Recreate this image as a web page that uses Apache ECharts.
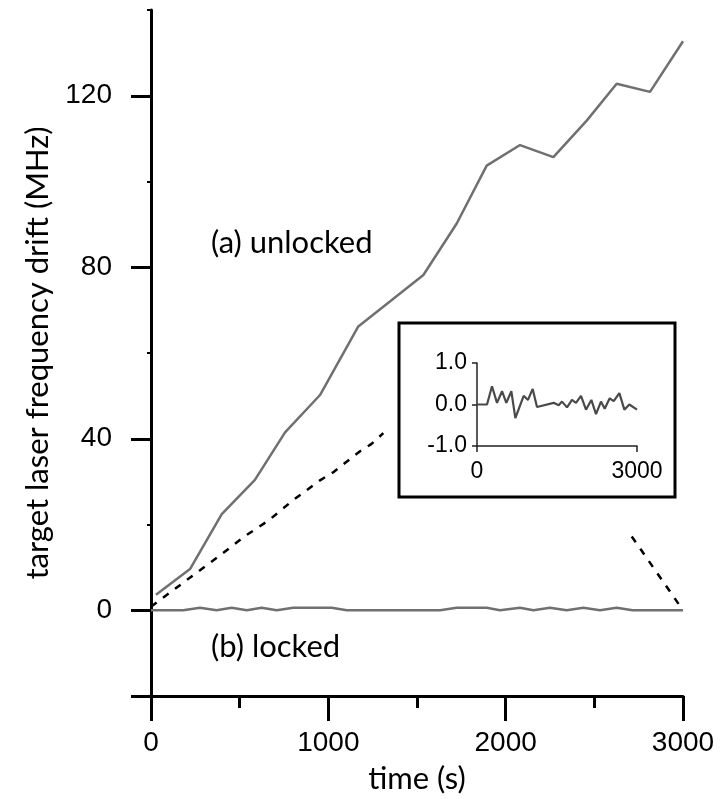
<!DOCTYPE html>
<html>
<head>
<meta charset="utf-8">
<script src="https://cdn.jsdelivr.net/npm/echarts@6/dist/echarts.min.js"></script>
<style>
  html, body { margin: 0; padding: 0; background: #fff; }
  #chart { width: 722px; height: 799px; }
</style>
</head>
<body>
<div id="chart"></div>
<script>
// (a) free-running laser: drift vs time
const unlockedTime  = [28, 220, 399, 586, 756, 953, 1169, 1536, 1724, 1893, 2081, 2269, 2457, 2626, 2814, 3000];
const unlockedDrift = [3.6, 9.6, 22.4, 30.4, 41.5, 50.2, 66.2, 78.2, 90.2, 103.7, 108.5, 105.7, 114.2, 122.8, 120.9, 132.7];

// (b) locked laser: drift vs time (main panel)
const lockedTime  = [0, 182, 276, 370, 455, 540, 624, 709, 802, 1019, 1104, 1630, 1724, 1893, 1968, 2081, 2156, 2250, 2344, 2438, 2532, 2626, 2716, 3000];
const lockedDrift = [0, 0, 0.6, 0, 0.6, 0, 0.6, 0, 0.6, 0.6, 0, 0, 0.6, 0.6, 0, 0.6, 0, 0.6, 0, 0.6, 0, 0.6, 0, 0];

// locked laser, magnified (inset)
const insetTime  = [0, 188, 281, 375, 469, 550, 644, 719, 875, 956, 1044, 1125, 1438, 1531, 1594, 1688, 1781, 1856, 1950, 2044, 2144, 2231, 2325, 2394, 2488, 2563, 2669, 2763, 2856, 3000];
const insetDrift = [0, 0, 0.44, 0.04, 0.32, 0.04, 0.32, -0.33, 0.21, 0.11, 0.375, -0.06, 0.04, -0.02, 0.07, -0.07, 0.11, 0.04, 0.21, -0.125, 0.11, -0.23, 0.07, -0.1, 0.15, 0.08, 0.275, -0.125, 0, -0.125];

// dashed guide lines pointing from the locked trace to the inset
const guideLeftTime   = [0, 229, 380, 530, 662, 802, 878, 953, 1028, 1179, 1244, 1310];
const guideLeftDrift  = [0.8, 7.9, 12.5, 17.3, 20.9, 25.7, 28.0, 30.3, 32.2, 37.1, 38.8, 41.3];
const guideRightTime  = [2711, 3000];
const guideRightDrift = [17.2, 0];

// curve annotations
const noteTime  = [338, 338];
const noteDrift = [85.6, -8.6];
const noteText  = ['(a) unlocked', '(b) locked'];

// ticks and labels
const yMajorTicks  = [-20, 0, 40, 80, 120];
const yLabelValues = [0, 40, 80, 120];
const yMinorTicks  = [20, 60, 100, 140];
const xMajorTicks  = [0, 1000, 2000, 3000];
const xMinorTicks  = [500, 1500, 2500];
const insetXTicks  = [0, 3000];

const zip = (xs, ys) => xs.map((x, i) => [x, ys[i]]);
const plain = v => String(v);

const tickFont = '"Liberation Sans", Arial, sans-serif';
const textFont = 'Lato, "Open Sans", sans-serif';
const black = '#000';
const traceColor = '#707070';

const chart = echarts.init(document.getElementById('chart'), null, { renderer: 'canvas' });

chart.setOption({
  animation: false,
  backgroundColor: '#fff',
  grid: [
    { left: 151, right: 39, top: 10, bottom: 99 },
    { left: 477, top: 363, width: 160, height: 83 }
  ],
  graphic: [{
    type: 'rect',
    z: 0,
    shape: { x: 399, y: 323, width: 276, height: 174 },
    style: { fill: '#fff', stroke: black, lineWidth: 3 }
  }],
  xAxis: [
    {
      gridIndex: 0, type: 'value', min: 0, max: 3000, position: 'bottom',
      axisLine: { onZero: false, lineStyle: { color: black, width: 3 } },
      axisTick: { customValues: xMajorTicks, length: 25, lineStyle: { color: black, width: 3 } },
      axisLabel: { customValues: xMajorTicks, formatter: plain, margin: 33, fontSize: 28, fontFamily: tickFont, color: black },
      splitLine: { show: false },
      name: 'time (s)', nameLocation: 'middle', nameGap: 67,
      nameTextStyle: { fontSize: 31, fontFamily: textFont, color: black }
    },
    {
      gridIndex: 0, type: 'value', min: 0, max: 3000, position: 'bottom',
      axisLine: { show: false, onZero: false },
      axisTick: { customValues: xMinorTicks, length: 12, lineStyle: { color: black, width: 3 } },
      axisLabel: { show: false },
      splitLine: { show: false }
    },
    {
      gridIndex: 1, type: 'value', min: 0, max: 3000, interval: 3000, position: 'bottom',
      axisLine: { onZero: false, lineStyle: { color: '#222', width: 1.5 } },
      axisTick: { customValues: insetXTicks, length: 6, lineStyle: { color: '#222', width: 1.5 } },
      axisLabel: { customValues: insetXTicks, formatter: plain, margin: 14, fontSize: 23, fontFamily: tickFont, color: black },
      splitLine: { show: false }
    }
  ],
  yAxis: [
    {
      gridIndex: 0, type: 'value', min: -20, max: 140, position: 'left',
      axisLine: { onZero: false, lineStyle: { color: black, width: 3 } },
      axisTick: { customValues: yMajorTicks, length: 20, lineStyle: { color: black, width: 3 } },
      axisLabel: { customValues: yLabelValues, formatter: plain, margin: 39, fontSize: 28, fontFamily: tickFont, color: black },
      splitLine: { show: false },
      name: 'target laser frequency drift (MHz)', nameLocation: 'middle', nameGap: 98, nameRotate: 90,
      nameTextStyle: { fontSize: 31, fontFamily: textFont, color: black }
    },
    {
      gridIndex: 0, type: 'value', min: -20, max: 140, position: 'left',
      axisLine: { show: false, onZero: false },
      axisTick: { customValues: yMinorTicks, length: 4, lineStyle: { color: black, width: 2 } },
      axisLabel: { show: false },
      splitLine: { show: false }
    },
    {
      gridIndex: 1, type: 'value', min: -1, max: 1, interval: 1, position: 'left',
      axisLine: { onZero: false, lineStyle: { color: '#222', width: 1.5 } },
      axisTick: { length: 5, lineStyle: { color: '#222', width: 1.5 } },
      axisLabel: { margin: 10, fontSize: 23, fontFamily: tickFont, color: black,
                   formatter: v => v.toFixed(1) },
      splitLine: { show: false }
    }
  ],
  series: [
    {
      name: 'unlocked', type: 'line', xAxisIndex: 0, yAxisIndex: 0,
      data: zip(unlockedTime, unlockedDrift), showSymbol: false, symbol: 'none',
      lineStyle: { color: traceColor, width: 2.5 }, z: 3
    },
    {
      name: 'locked', type: 'line', xAxisIndex: 0, yAxisIndex: 0,
      data: zip(lockedTime, lockedDrift), showSymbol: false, symbol: 'none',
      lineStyle: { color: traceColor, width: 2.5 }, z: 3
    },
    {
      name: 'guide left', type: 'line', xAxisIndex: 0, yAxisIndex: 0,
      data: zip(guideLeftTime, guideLeftDrift), showSymbol: false, symbol: 'none',
      lineStyle: { color: black, width: 2.5, type: [7, 8] }, z: 2
    },
    {
      name: 'guide right', type: 'line', xAxisIndex: 0, yAxisIndex: 0,
      data: zip(guideRightTime, guideRightDrift), showSymbol: false, symbol: 'none',
      lineStyle: { color: black, width: 2.5, type: [7, 8] }, z: 2
    },
    {
      name: 'notes', type: 'scatter', xAxisIndex: 0, yAxisIndex: 0, silent: true,
      data: noteTime.map((t, i) => ({ value: [t, noteDrift[i]], name: noteText[i] })),
      symbol: 'circle', symbolSize: 0, itemStyle: { color: black },
      label: {
        show: true, position: 'right', distance: 0,
        formatter: p => p.name, fontSize: 31, fontFamily: textFont, color: black, opacity: 1
      }
    },
    {
      name: 'locked inset', type: 'line', xAxisIndex: 2, yAxisIndex: 2,
      data: zip(insetTime, insetDrift), showSymbol: false, symbol: 'none',
      lineStyle: { color: '#4a4a4a', width: 2.2 }, z: 5
    }
  ]
});
</script>
</body>
</html>
